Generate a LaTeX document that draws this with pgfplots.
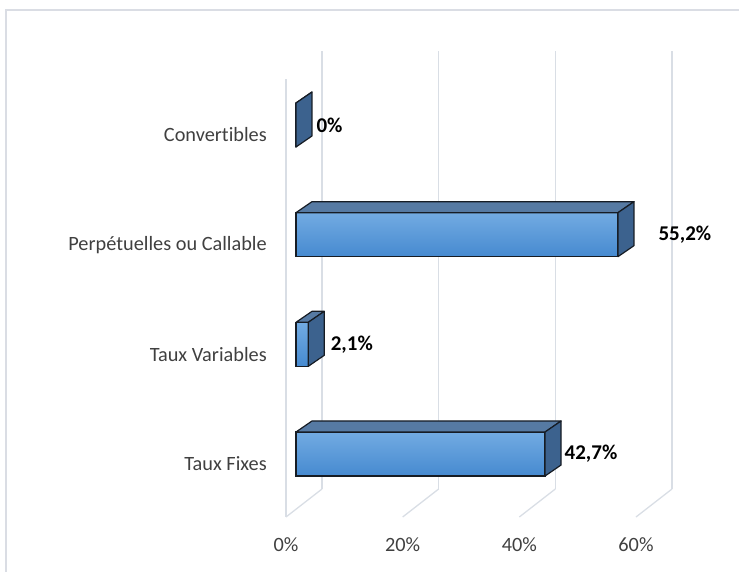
\documentclass[border=0pt]{standalone}
\usepackage{pgfplots}
\pgfplotsset{compat=1.18}
\usepackage{pgfplotstable}
\usepackage{fontspec}
\setmainfont{Carlito}[Ligatures=NoCommon]

\definecolor{gridc}{RGB}{217,222,229}
\definecolor{borderc}{RGB}{218,221,228}
\definecolor{frontTop}{RGB}{114,171,226}
\definecolor{frontMid}{RGB}{92,155,220}
\definecolor{frontBot}{RGB}{70,138,208}
\definecolor{topc}{RGB}{86,122,163}
\definecolor{sidec}{RGB}{60,98,142}
\definecolor{edge}{RGB}{22,28,36}
\definecolor{labc}{RGB}{64,64,64}

% pos = category index, val = share in %, off = extra gap of value label (pt)
\pgfplotstableread{
pos val off
0 42.7 3
1 2.1 6
2 55.2 24
3 0 4
}\datatable

% shaded front face, top face and side face of a bar, drawn at the right end of its front face
\pgfdeclareplotmark{box3d}{%
  \path[top color=frontTop, bottom color=frontBot, draw=edge, line width=1.2pt, line join=round]
    (-\barlen pt,-22pt) rectangle (0pt,22pt);
  \path[fill=topc, draw=edge, line width=1.2pt, line join=round]
    (-\barlen pt,22pt) -- (0pt,22pt) -- (16pt,33pt) -- (-\barlen pt+16pt,33pt) -- cycle;
  \path[fill=sidec, draw=edge, line width=1.2pt, line join=round]
    (0pt,-22pt) -- (0pt,22pt) -- (16pt,33pt) -- (16pt,-11pt) -- cycle;
}

\begin{document}
\begin{tikzpicture}
\begin{axis}[
  x=5.8333pt, y=109.67pt,
  xmin=0, xmax=60, ymin=-0.4924, ymax=3.5,
  clip=false,
  axis line style={draw=none},
  major tick length=0pt,
  xtick pos=left, ytick pos=left,
  xtick={0,20,40,60},
  xticklabels={0\%,20\%,40\%,60\%},
  ytick={0,1,2,3},
  yticklabels={Taux Fixes,Taux Variables,Perpétuelles ou Callable,Convertibles},
  tick label style={font=\fontsize{20.3}{24}\selectfont, text=labc},
  xticklabel style={anchor=north, inner sep=0pt, xshift=-10pt, yshift=-29pt},
  yticklabel style={anchor=east, inner sep=0pt, xshift=-29pt, yshift=-10pt},
]
% walls: back gridlines, floor diagonals, left front edge
\pgfplotsinvokeforeach{0,20,40,60}{
  \draw[gridc, line width=1.3pt] ([shift={(26pt,19pt)}]axis cs:#1,-0.4924) -- ([shift={(26pt,19pt)}]axis cs:#1,3.5);
  \draw[gridc, line width=1.3pt] ([shift={(-10pt,-9pt)}]axis cs:#1,-0.4924) -- ([shift={(26pt,19pt)}]axis cs:#1,-0.4924);
}
\draw[gridc, line width=1.3pt] ([shift={(-10pt,-9pt)}]axis cs:0,-0.4924) -- ([shift={(-10pt,-9pt)}]axis cs:0,3.5);
\coordinate (O) at (axis cs:0,0);

% front faces
\addplot[xbar, bar shift=0pt, bar width=44pt, draw=edge, line width=1.2pt,
  fill=frontMid,
  point meta=x,
  visualization depends on={\thisrow{off} \as \off},
  nodes near coords={\pgfmathprintnumber[assume math mode=true, use comma, fixed, precision=1]{\pgfplotspointmeta}\%},
  every node near coord/.append style={font=\fontsize{21}{25}\selectfont\bfseries, text=black,
    anchor=west, inner sep=0pt, xshift=16pt+\off pt},
] table[x=val, y=pos] {\datatable};

% shading of the front faces, top and side faces
\addplot[only marks, mark=box3d,
  visualization depends on={\thisrow{val}*5.8333 \as \barlen},
] table[x=val, y=pos] {\datatable};
\end{axis}
\draw[borderc, line width=1.5pt] ([shift={(-290pt,-118pt)}]O) -- ([shift={(-290pt,444pt)}]O) -- ([shift={(443pt,444pt)}]O);
\pgfresetboundingbox
\path[use as bounding box] ([shift={(-296pt,-118pt)}]O) rectangle ([shift={(443pt,454pt)}]O);
\end{tikzpicture}
\end{document}
